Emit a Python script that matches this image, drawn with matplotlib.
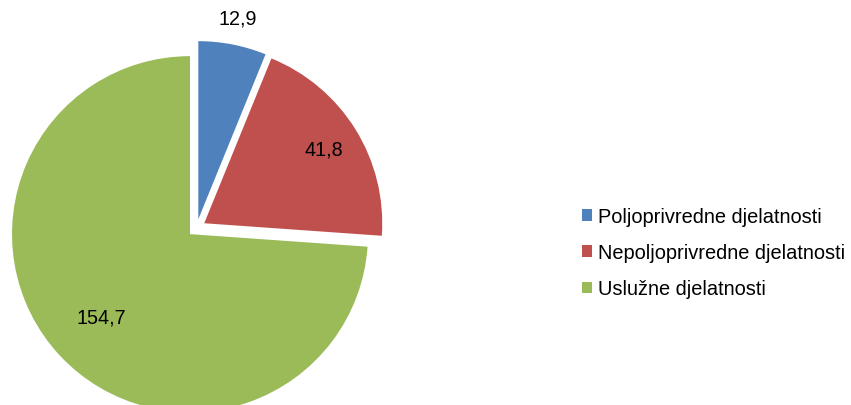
import numpy as np
import matplotlib
matplotlib.use("Agg")
import matplotlib.pyplot as plt
from matplotlib.patches import Patch

plt.rcParams['font.family'] = ['Liberation Sans', 'DejaVu Sans']

# data
categories = ['Poljoprivredne djelatnosti', 'Nepoljoprivredne djelatnosti', 'Uslužne djelatnosti']
values = [12.9, 41.8, 154.7]
colors = ['#4F81BD', '#C0504D', '#9BBB59']

# label distance (fraction of radius) for each slice
label_dist = [1.15, 0.79, 0.68]

W, H = 851, 406
fig = plt.figure(figsize=(W / 100, H / 100), dpi=100)
ax = fig.add_axes([0, 0, 1, 1])

R = 178
cx, cy = 196.6, H - 229
expl = 9  # explode offset, in data (pixel) units

wedges, _ = ax.pie(values, colors=colors, startangle=90, counterclock=False,
                   explode=[expl] * len(values), radius=R, center=(cx, cy),
                   wedgeprops=dict(linewidth=0))

for w, v, d in zip(wedges, values, label_dist):
    th = np.deg2rad((w.theta1 + w.theta2) / 2)
    x = cx + (expl + d * R) * np.cos(th)
    y = cy + (expl + d * R) * np.sin(th)
    ax.text(x, y, f"{v:.1f}".replace('.', ','), ha='center', va='center',
            fontsize=14.2, color='black')

ax.set_xlim(0, W)
ax.set_ylim(0, H)
ax.set_aspect('auto')
ax.axis('off')

handles = [Patch(facecolor=c, edgecolor='none') for c in colors]
fig.legend(handles, categories, loc='upper left',
           bbox_to_anchor=(582 / W, (H - 208) / H), frameon=False,
           fontsize=14.4, handlelength=0.5, handleheight=0.5,
           handletextpad=0.28, labelspacing=0.86, borderpad=0, borderaxespad=0)

fig.savefig('out.png', dpi=100)
